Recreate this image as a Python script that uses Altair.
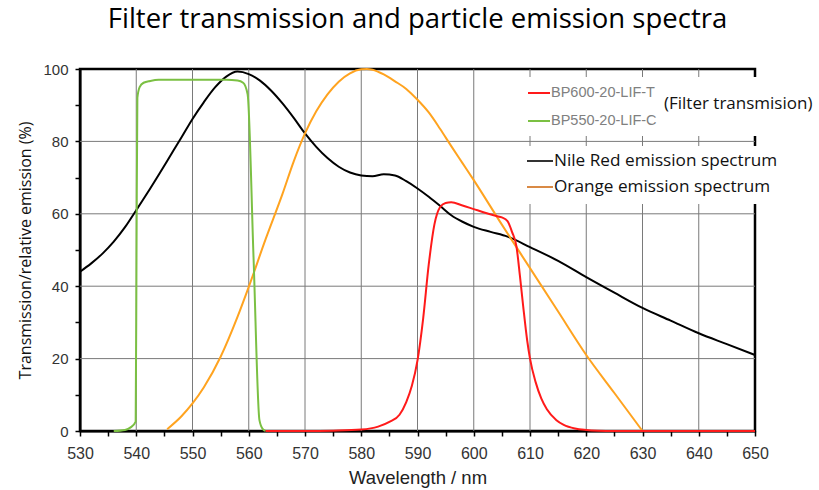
import altair as alt
import pandas as pd

# ---------------- data ----------------
nile_wl = [530, 532, 534, 536, 538, 540, 542, 544, 546, 548, 550, 552, 554, 556, 558, 560,
           562, 564, 566, 568, 570, 572, 574, 576, 578, 580, 582, 584, 586, 588, 590, 592,
           594, 596, 598, 600, 603, 606, 610, 615, 620, 625, 630, 635, 640, 645, 650]
nile_val = [44, 46.3, 49, 52.3, 56.3, 61, 65.8, 70.8, 75.9, 81, 86.2, 90.8, 94.9, 97.9, 99.3, 98.6,
            96.8, 94, 90.5, 86.5, 82.2, 78.5, 75.4, 73, 71.4, 70.6, 70.4, 70.9, 70.6, 69, 67, 64.7,
            62.2, 59.6, 57.8, 56.4, 55, 53.7, 50.8, 47, 42.5, 38.2, 34, 30.5, 27, 24, 21]

orange_wl = [545.5, 548, 550, 552, 555, 558, 560, 563, 566, 568, 570, 572, 574, 576, 578, 580,
             581, 582, 584, 586, 588, 590, 592, 594, 596, 598, 600, 605, 610, 615, 620, 625, 630]
orange_val = [0.5, 4, 7.6, 12, 20.5, 31.5, 39.8, 53, 65.5, 74.5, 82.2, 88.3, 93, 96.5, 98.8, 99.9,
              100, 99.8, 98.5, 96.6, 94.5, 91.5, 88, 83.5, 78.7, 74, 69.3, 57, 45, 33, 21, 10.5, 0]

red_wl = [563, 570, 575, 580, 583, 585, 586.8, 588, 589, 590, 591, 592, 593, 594, 595, 596,
          598, 600, 602, 604, 605, 606, 606.8, 607.6, 608.2, 608.8, 609.5, 610, 611, 612, 613,
          614.7, 616, 618, 620, 622, 625, 650]
red_val = [0, 0, 0.1, 0.4, 1.2, 2.5, 4.5, 8, 12.5, 19.5, 31, 46, 57, 61.8, 63, 63.2,
           62.3, 61.3, 60.3, 59.4, 59, 58, 55, 50.9, 43, 34.3, 25, 20, 13.5, 9, 6,
           3, 1.7, 0.7, 0.3, 0.1, 0, 0]

green_wl = [536, 538, 539, 539.9, 540.05, 540.2, 540.6, 541.3, 542.5, 544, 556, 558, 559,
            559.8, 560.85, 561.9, 562.5, 563]
green_val = [0, 0.3, 1, 2.6, 50, 92, 95, 96.2, 96.7, 97, 97, 96.8, 96.2,
             93, 48, 3, 0.5, 0]

series_names = ["Nile Red emission spectrum", "Orange emission spectrum",
                "BP550-20-LIF-C", "BP600-20-LIF-T"]
series_colors = ["#000000", "#ffa31f", "#7bc043", "#ff1a1a"]

title_text = "Filter transmission and particle emission spectra"
x_title = "Wavelength / nm"
y_title = "Transmission/relative emission (%)"
filter_note = "(Filter transmision)"

x_ticks = list(range(530, 651, 5))
y_ticks = list(range(0, 101, 10))
grid_x = list(range(540, 641, 10))
grid_y = [20, 40, 60, 80]
x_min, x_max = 530, 650
y_min, y_max = 0, 100

# ---------------- build table ----------------
rows = []
grid_names = []
for g in grid_x:
    nm = "gx%d" % g
    grid_names.append(nm)
    rows.append({"series": nm, "wl": g, "val": y_min, "order": 0, "w": 1})
    rows.append({"series": nm, "wl": g, "val": y_max, "order": 1, "w": 1})
for g in grid_y:
    nm = "gy%d" % g
    grid_names.append(nm)
    rows.append({"series": nm, "wl": x_min, "val": g, "order": 0, "w": 1})
    rows.append({"series": nm, "wl": x_max, "val": g, "order": 1, "w": 1})
for name, wls, vals in [(series_names[0], nile_wl, nile_val),
                        (series_names[1], orange_wl, orange_val),
                        (series_names[2], green_wl, green_val),
                        (series_names[3], red_wl, red_val)]:
    for i, (w, v) in enumerate(zip(wls, vals)):
        rows.append({"series": name, "wl": w, "val": v, "order": i, "w": 2})
df = pd.DataFrame(rows)

color_domain = grid_names + series_names
color_range = ["#7a7a7a"] * len(grid_names) + series_colors

W, H = 675, 362
CAL = "Open Sans"
ARI = "Liberation Sans"

xscale = alt.Scale(domain=[x_min, x_max], nice=False, zero=False)
yscale = alt.Scale(domain=[y_min, y_max], nice=False)

lines = alt.Chart(df).mark_line(interpolate="monotone").encode(
    x=alt.X("wl:Q", scale=xscale,
            axis=alt.Axis(values=x_ticks, title=x_title, grid=False,
                          labelExpr="datum.value % 10 === 0 ? datum.label : ''",
                          labelFont=ARI, labelFontSize=16, labelColor="#333333",
                          labelPadding=9, tickSize=5, tickColor="#000000", tickWidth=1.5,
                          domainColor="#000000", domainWidth=2,
                          titleFont=ARI, titleFontSize=18.5, titleFontWeight="normal",
                          titleColor="#222222", titlePadding=7, labelFlush=False)),
    y=alt.Y("val:Q", scale=yscale,
            axis=alt.Axis(values=y_ticks, title=y_title, grid=False,
                          labelExpr="datum.value % 20 === 0 ? datum.label : ''",
                          labelFont=ARI, labelFontSize=15, labelColor="#333333",
                          labelPadding=7, tickSize=5, tickColor="#000000", tickWidth=1.5,
                          domainColor="#000000", domainWidth=2,
                          titleFont=CAL, titleFontSize=16, titleFontWeight="normal",
                          titleColor="#111111", titlePadding=9)),
    color=alt.Color("series:N", scale=alt.Scale(domain=color_domain, range=color_range), legend=None),
    strokeWidth=alt.StrokeWidth("w:Q", scale=None, legend=None),
    order="order:Q",
)

# white legend backgrounds (as in the reference)
box1 = alt.Chart(pd.DataFrame({"a": [0]})).mark_rect(color="white").encode(
    x=alt.value(442), x2=alt.value(740), y=alt.value(8), y2=alt.value(67))
box2 = alt.Chart(pd.DataFrame({"a": [0]})).mark_rect(color="white").encode(
    x=alt.value(442), x2=alt.value(740), y=alt.value(77), y2=alt.value(135))

def leg_rule(color, x1, x2, y):
    return alt.Chart(pd.DataFrame({"a": [0]})).mark_rule(color=color, strokeWidth=2).encode(
        x=alt.value(x1), x2=alt.value(x2), y=alt.value(y))

def leg_text(txt, x, y, font, size, color):
    return alt.Chart(pd.DataFrame({"t": [txt]})).mark_text(
        align="left", baseline="middle", font=font, fontSize=size, color=color).encode(
        x=alt.value(x), y=alt.value(y), text="t:N")

legend_layers = [
    box1, box2,
    leg_rule("#ff1a1a", 448, 470, 24),
    leg_text(series_names[3], 471, 24, ARI, 14.5, "#808080"),
    leg_rule("#7bc043", 448, 470, 52),
    leg_text(series_names[2], 471, 52, ARI, 14.5, "#808080"),
    leg_text(filter_note, 584, 35, CAL, 17, "#111111"),
    leg_rule("#333333", 447, 473, 92),
    leg_text(series_names[0], 474, 92, CAL, 17.2, "#111111"),
    leg_rule("#d98a45", 447, 473, 118),
    leg_text(series_names[1], 474, 118, CAL, 17.2, "#111111"),
]

chart = alt.layer(lines, *legend_layers).properties(
    width=W, height=H,
    title=alt.TitleParams(title_text, font=CAL, fontSize=27.5, fontWeight="normal",
                          color="#000000", anchor="middle", offset=29),
    autosize=alt.AutoSizeParams(type="none"),
    padding={"left": 80, "top": 69, "right": 64, "bottom": 59},
).configure_view(
    stroke="#000000", strokeWidth=2.5
)

chart.save("out.html", embed_options={"renderer": "svg", "actions": False})
